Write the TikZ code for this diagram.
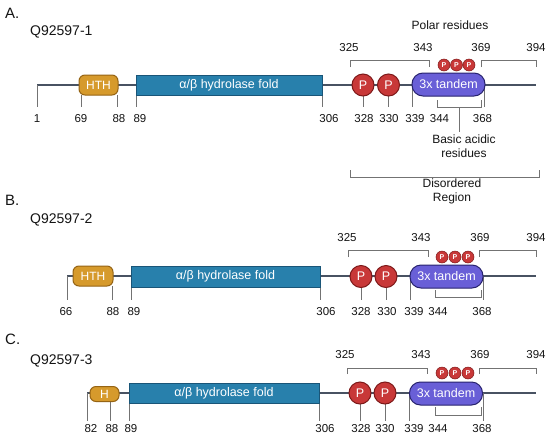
\documentclass[tikz,border=0pt]{standalone}
\usepackage{fontspec}
\setmainfont{Liberation Sans}
\definecolor{lineC}{RGB}{72,82,98}
\definecolor{tickC}{RGB}{115,115,115}
\definecolor{txt}{RGB}{20,20,20}
\definecolor{hthF}{RGB}{214,154,44}
\definecolor{hthB}{RGB}{150,100,20}
\definecolor{hydF}{RGB}{40,128,172}
\definecolor{hydB}{RGB}{25,85,120}
\definecolor{pF}{RGB}{200,56,56}
\definecolor{pB}{RGB}{125,25,25}
\definecolor{tanF}{RGB}{105,95,215}
\definecolor{tanB}{RGB}{40,35,110}
\begin{document}
\begin{tikzpicture}[x=1pt,y=-1pt,
  mainline/.style={draw=lineC,line width=1.4pt},
  tick/.style={draw=tickC,line width=1pt},
  brk/.style={draw=tickC,line width=1pt},
  num/.style={font=\fontsize{11.5}{12}\selectfont,text=txt,inner sep=0pt},
  lab/.style={font=\fontsize{12}{14}\selectfont,text=txt,inner sep=0pt,align=center},
  ttl/.style={font=\fontsize{15}{16}\selectfont,text=txt,inner sep=0pt,anchor=west},
  sub/.style={font=\fontsize{14}{16}\selectfont,text=txt,inner sep=0pt,anchor=west},
  hthbox/.style={draw=hthB,fill=hthF,line width=1pt,rounded corners=6pt,inner sep=0pt,text=white,font=\fontsize{12}{12}\selectfont},
  hydbox/.style={draw=hydB,fill=hydF,line width=0.8pt,inner sep=0pt,text=white,font=\fontsize{12.5}{12}\selectfont},
  pcirc/.style={circle,draw=pB,fill=pF,line width=1pt,minimum size=22pt,inner sep=0pt,text=white,font=\fontsize{12.5}{12}\selectfont},
  spcirc/.style={circle,draw=pB,fill=pF,line width=0.5pt,minimum size=12pt,inner sep=0pt,text=white,font=\fontsize{7}{7}\selectfont\bfseries},
  tandbox/.style={draw=tanB,fill=tanF,line width=1pt,rounded corners=11pt,inner sep=0pt,minimum width=73pt,minimum height=23pt,text=white,font=\fontsize{12.5}{12}\selectfont}
]
\useasboundingbox[fill=white] (0,0) rectangle (550,440);

% ================= Panel A =================
\node[ttl] (tA) at (5,13) {A.};
\node[sub] (sA) at (30,31.5) {Q92597-1};
\coordinate (A0) at (37,85);
\coordinate (A9) at (536,85);
\draw[mainline] (A0) -- (A9);
\foreach \n/\x/\a/\b in {1/37/85/107, 69/81/95/107, 88/117/95/107, 89/136/95/107, 306/322/95/107, 328/363/96/107, 330/388.5/96/107, 339/412/85/107, 368/484.5/85/107}{
  \coordinate (kA\n-a) at (\x,\a);
  \coordinate (kA\n-b) at (\x,\b);
  \draw[tick] (kA\n-a) -- (kA\n-b);
}
\foreach \t/\x in {1/37, 69/81, 88/119, 89/140, 306/329, 328/364, 330/389, 339/415, 344/439.5, 368/482.5}{
  \node[num] (lA\t) at (\x,119) {\t};
}
\node[hthbox,minimum width=39pt,minimum height=20pt] (hthA) at (98.5,85) {HTH};
\node[hydbox,minimum width=186pt,minimum height=20pt] (hydA) at (229,85) {α/β hydrolase fold};
\node[pcirc] (pA1) at (363,85) {P};
\node[pcirc] (pA2) at (388.5,85) {P};
\node[tandbox] (tanA) at (448.5,84.5) {3x tandem};
\node[spcirc] (spA1) at (444,65) {P};
\node[spcirc] (spA2) at (456.5,65) {P};
\node[spcirc] (spA3) at (469,65) {P};
% bracket under tandem
\coordinate (bA1) at (437,100); \coordinate (bA2) at (437,107);
\coordinate (bA3) at (481,107); \coordinate (bA4) at (481,100);
\draw[brk] (bA1) -- (bA2) -- (bA3) -- (bA4);
\coordinate (bAm) at (459,107); \coordinate (bAs) at (459,132);
\draw[brk] (bAm) -- (bAs);
\node[lab] (basic) at (464,146) {Basic acidic\\residues};
% top brackets
\coordinate (cA1) at (350,67); \coordinate (cA2) at (350,60);
\coordinate (cA3) at (429,60); \coordinate (cA4) at (429,67);
\draw[brk] (cA1) -- (cA2) -- (cA3) -- (cA4);
\coordinate (dA1) at (481,67); \coordinate (dA2) at (481,60);
\coordinate (dA3) at (536,60); \coordinate (dA4) at (536,67);
\draw[brk] (dA1) -- (dA2) -- (dA3) -- (dA4);
\node[num] (uA325) at (349,48) {325};
\node[num] (uA343) at (423,48) {343};
\node[num] (uA369) at (481,48) {369};
\node[num] (uA394) at (536,48) {394};
\node[lab] (polar) at (450,25) {Polar residues};
% disordered region
\coordinate (eA1) at (350,170); \coordinate (eA2) at (350,177);
\coordinate (eA3) at (539,177); \coordinate (eA4) at (539,170);
\draw[brk] (eA1) -- (eA2) -- (eA3) -- (eA4);
\node[lab] (disord) at (452,191) {Disordered\\Region};

% ================= Panel B =================
\node[ttl] (tB) at (5,200) {B.};
\node[sub] (sB) at (30,220) {Q92597-2};
\coordinate (B0) at (67,276);
\coordinate (B9) at (536,276);
\draw[mainline] (B0) -- (B9);
\foreach \n/\x/\a/\b in {66/67/276/300, 88/112/286/300, 89/131/287/300, 306/320/287/300, 328/361/287/300, 330/386/287/300, 339/410/276/300, 368/483/276/300}{
  \coordinate (kB\n-a) at (\x,\a);
  \coordinate (kB\n-b) at (\x,\b);
  \draw[tick] (kB\n-a) -- (kB\n-b);
}
\foreach \t/\x in {66/66, 88/113, 89/134, 306/326, 328/361, 330/387, 339/414, 344/438, 368/482}{
  \node[num] (lB\t) at (\x,312) {\t};
}
\node[hthbox,minimum width=40pt,minimum height=20pt] (hthB) at (93,276) {HTH};
\node[hydbox,minimum width=189pt,minimum height=21pt] (hydB) at (225.5,276.5) {α/β hydrolase fold};
\node[pcirc] (pB1) at (361,276.5) {P};
\node[pcirc] (pB2) at (386,276.5) {P};
\node[tandbox] (tanB) at (446.5,276.5) {3x tandem};
\node[spcirc] (spB1) at (442,257) {P};
\node[spcirc] (spB2) at (455,257) {P};
\node[spcirc] (spB3) at (468,257) {P};
\coordinate (bB1) at (435,290); \coordinate (bB2) at (435,297);
\coordinate (bB3) at (481,297); \coordinate (bB4) at (481,290);
\draw[brk] (bB1) -- (bB2) -- (bB3) -- (bB4);
\coordinate (cB1) at (348,257); \coordinate (cB2) at (348,250);
\coordinate (cB3) at (428,250); \coordinate (cB4) at (428,257);
\draw[brk] (cB1) -- (cB2) -- (cB3) -- (cB4);
\coordinate (dB1) at (479,257); \coordinate (dB2) at (479,250);
\coordinate (dB3) at (536,250); \coordinate (dB4) at (536,257);
\draw[brk] (dB1) -- (dB2) -- (dB3) -- (dB4);
\node[num] (uB325) at (347,238) {325};
\node[num] (uB343) at (421,238) {343};
\node[num] (uB369) at (480,238) {369};
\node[num] (uB394) at (536,238) {394};

% ================= Panel C =================
\node[ttl] (tC) at (5,339) {C.};
\node[sub] (sC) at (30,361) {Q92597-3};
\coordinate (C0) at (87,393);
\coordinate (C9) at (536,393);
\draw[mainline] (C0) -- (C9);
\foreach \n/\x/\a/\b in {82/87/393/421, 88/110/401/421, 89/129/403/421, 306/319/403/421, 328/360/404/421, 330/385/404/421, 339/409/393/421, 368/483/393/421}{
  \coordinate (kC\n-a) at (\x,\a);
  \coordinate (kC\n-b) at (\x,\b);
  \draw[tick] (kC\n-a) -- (kC\n-b);
}
\foreach \t/\x in {82/91, 88/112, 89/131, 306/325, 328/361, 330/385, 339/414, 344/438, 368/482}{
  \node[num] (lC\t) at (\x,428.5) {\t};
}
\node[hthbox,minimum width=29pt,minimum height=15pt] (hthC) at (104.5,394) {H};
\node[hydbox,minimum width=190pt,minimum height=20pt] (hydC) at (224,393) {α/β hydrolase fold};
\node[pcirc] (pC1) at (360,393) {P};
\node[pcirc] (pC2) at (385,393) {P};
\node[tandbox] (tanC) at (446,393.5) {3x tandem};
\node[spcirc] (spC1) at (442,373) {P};
\node[spcirc] (spC2) at (455,373) {P};
\node[spcirc] (spC3) at (468,373) {P};
\coordinate (bC1) at (435,407); \coordinate (bC2) at (435,415);
\coordinate (bC3) at (481,415); \coordinate (bC4) at (481,407);
\draw[brk] (bC1) -- (bC2) -- (bC3) -- (bC4);
\coordinate (cC1) at (347,374); \coordinate (cC2) at (347,368);
\coordinate (cC3) at (427,368); \coordinate (cC4) at (427,374);
\draw[brk] (cC1) -- (cC2) -- (cC3) -- (cC4);
\coordinate (dC1) at (479,374); \coordinate (dC2) at (479,368);
\coordinate (dC3) at (536,368); \coordinate (dC4) at (536,374);
\draw[brk] (dC1) -- (dC2) -- (dC3) -- (dC4);
\node[num] (uC325) at (345,355) {325};
\node[num] (uC343) at (421,355) {343};
\node[num] (uC369) at (480,355) {369};
\node[num] (uC394) at (536,355) {394};
\end{tikzpicture}
\end{document}
